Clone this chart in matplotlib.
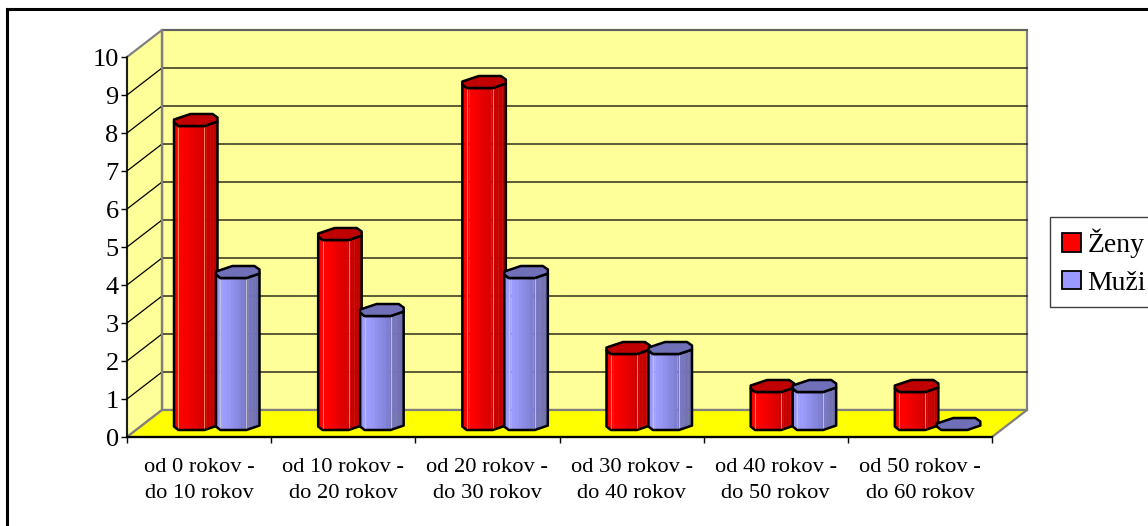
import numpy as np
import matplotlib
matplotlib.use('Agg')
import matplotlib.pyplot as plt
from matplotlib.lines import Line2D
from matplotlib.patches import Patch, Polygon

plt.rcParams['font.family'] = ['Liberation Serif', 'DejaVu Serif']

categories = ['od 0 rokov -\ndo 10 rokov', 'od 10 rokov -\ndo 20 rokov',
              'od 20 rokov -\ndo 30 rokov', 'od 30 rokov -\ndo 40 rokov',
              'od 40 rokov -\ndo 50 rokov', 'od 50 rokov -\ndo 60 rokov']
zeny = [8, 5, 9, 2, 1, 1]
muzi = [4, 3, 4, 2, 1, 0]
y_ticks = list(range(0, 11))

W, H = 1148, 526
# front plane of the 3d box, in pixels
left, right, top, bottom = 127, 992, 57, 437
px_x = (right - left) / 6
px_y = (bottom - top) / 10

# depth of the box in data units
dx = 35 / px_x
dy = 27 / px_y

# bar outline seen from the top: fractions of bar width / cap height
cap_x = np.array([0.10, 0.70, 1.00, 1.00, 0.885, 0.38, 0.00, 0.00])
cap_y = np.array([0.00, 0.00, 0.37, 0.71, 1.00, 1.00, 0.54, 0.29])
bar_w = 43.5 / px_x
cap_h = 12 / px_y
bar_base = 7 / px_y

# lower edge of the cap, left to right
low_x = [0.0, 0.0, 0.10, 0.70, 1.00]
low_y = [0.54, 0.29, 0.00, 0.00, 0.37]

red_bands = ['#f80000', '#ff0000', '#ff0000', '#f80000', '#f00000', '#e80000',
             '#e00000', '#d80000', '#cc0000', '#c80000', '#c40000', '#c00000']
blue_bands = ['#9696f8', '#a0a0ff', '#9c9cfc', '#9898f6', '#9292ee', '#8c8ce6',
              '#8686dc', '#8080d2', '#7a7ac4', '#7676be', '#7272b8', '#6e6eb2']

fig = plt.figure(figsize=(W / 100, H / 100), dpi=100)
ax = fig.add_axes([left / W, 1 - bottom / H, (right - left) / W, (bottom - top) / H])
ax.set_xlim(0, 6)
ax.set_ylim(0, 10)
ax.patch.set_visible(False)

grey = '#808080'
wall = '#ffff99'

# walls and floor
ax.add_patch(Polygon([(dx, dy), (6 + dx, dy), (6 + dx, 10 + dy), (dx, 10 + dy)],
                     fc=wall, ec=grey, lw=1.6, clip_on=False, zorder=1))
ax.add_patch(Polygon([(0, 0), (dx, dy), (dx, 10 + dy), (0, 10)],
                     fc=wall, ec=grey, lw=1.6, clip_on=False, zorder=1))
ax.add_patch(Polygon([(0, 0), (6, 0), (6 + dx, dy), (dx, dy)],
                     fc='#ffff00', ec=grey, lw=1.6, clip_on=False, zorder=1))

# grid on both walls
for v in y_ticks[1:-1]:
    ax.plot([0, dx, 6 + dx], [v, v + dy, v + dy], color='black', lw=0.9,
            clip_on=False, zorder=2)
ax.plot([dx, 6 + dx], [10 + dy, 10 + dy], color='#606060', lw=1.4, clip_on=False, zorder=2)
ax.plot([dx, dx], [dy, 10 + dy], color=grey, lw=1.6, clip_on=False, zorder=2)


def draw_bar(x0, value, bands, cap_color, z):
    y0 = bar_base
    edges = np.linspace(0, 1, len(bands) + 1)
    if value > 0:
        for i, col in enumerate(bands):
            xa, xb = edges[i], edges[i + 1]
            ya = np.interp(xa, low_x[1:], low_y[1:])
            yb = np.interp(xb, low_x[1:], low_y[1:])
            pts = [(x0 + xa * bar_w, y0 + ya * cap_h),
                   (x0 + xb * bar_w, y0 + yb * cap_h),
                   (x0 + xb * bar_w, y0 + value + yb * cap_h),
                   (x0 + xa * bar_w, y0 + value + ya * cap_h)]
            ax.add_patch(Polygon(pts, fc=col, ec=col, lw=0.3, clip_on=False, zorder=z))
        # light lines on the facet edges
        for f in (0.10, 0.70):
            yf = np.interp(f, low_x[1:], low_y[1:])
            ax.plot([x0 + f * bar_w] * 2, [y0 + yf * cap_h, y0 + value + yf * cap_h],
                    color='#ff9a60' if cap_color == '#c00000' else '#c8c8d8',
                    lw=0.6, clip_on=False, zorder=z)
        # outline of the body
        out = [(x0 + a * bar_w, y0 + value + b * cap_h) for a, b in zip(low_x[1:], low_y[1:])]
        out = out[::-1]
        out += [(x0 + a * bar_w, y0 + b * cap_h) for a, b in zip(low_x[1:], low_y[1:])]
        ax.add_patch(Polygon(out, fill=False, ec='black', lw=1.8, clip_on=False,
                             joinstyle='round', zorder=z + 0.1))
    cap = np.column_stack([x0 + cap_x * bar_w, y0 + value + cap_y * cap_h])
    ax.add_patch(Polygon(cap, fc=cap_color, ec='black', lw=1.8, clip_on=False,
                         joinstyle='round', zorder=z + 0.2))


for i in range(len(categories)):
    draw_bar(i + 47 / px_x, zeny[i], red_bands, '#c00000', 3 + i)
    draw_bar(i + 89 / px_x, muzi[i], blue_bands, '#7070b8', 3.5 + i)

# axes
for s in ('top', 'right'):
    ax.spines[s].set_visible(False)
ax.spines['left'].set_linewidth(1.1)
ax.spines['bottom'].set_linewidth(1.6)
for s in ax.spines.values():
    s.set_zorder(20)
ax.set_yticks(y_ticks)
ax.set_yticklabels([str(v) for v in y_ticks], fontsize=19)
ax.tick_params(axis='y', length=4, width=1, pad=2)
ax.set_xticks(np.arange(0, 7))
ax.set_xticklabels([])
ax.tick_params(axis='x', which='major', length=4.5, width=1)
ax.set_xticks(np.arange(6) + 0.5, minor=True)
ax.set_xticklabels(categories, minor=True, fontsize=16.2, linespacing=1.52)
ax.tick_params(axis='x', which='minor', length=0, pad=15)

# legend, runs past the right edge of the figure
handles = [Patch(fc='#ff0000', ec='black', lw=1.3), Patch(fc='#9999ff', ec='black', lw=1.3)]
leg = fig.legend(handles, ['Ženy', 'Muži'], loc='upper left',
                 bbox_to_anchor=(1050 / W, 1 - 217 / H), borderaxespad=0,
                 fontsize=20, frameon=True, fancybox=False, framealpha=1,
                 edgecolor='#404040', handlelength=0.68, handleheight=0.65,
                 handletextpad=0.25, borderpad=0.42, labelspacing=0.45)
leg.get_frame().set_linewidth(1.0)

# frame of the whole chart, only left and top sides
fig.add_artist(Line2D([7 / W, 7 / W], [0, 1 - 9 / H], color='black', lw=2.2))
fig.add_artist(Line2D([7 / W, 1], [1 - 9 / H, 1 - 9 / H], color='black', lw=2.2))

fig.savefig('out.png', dpi=100)
